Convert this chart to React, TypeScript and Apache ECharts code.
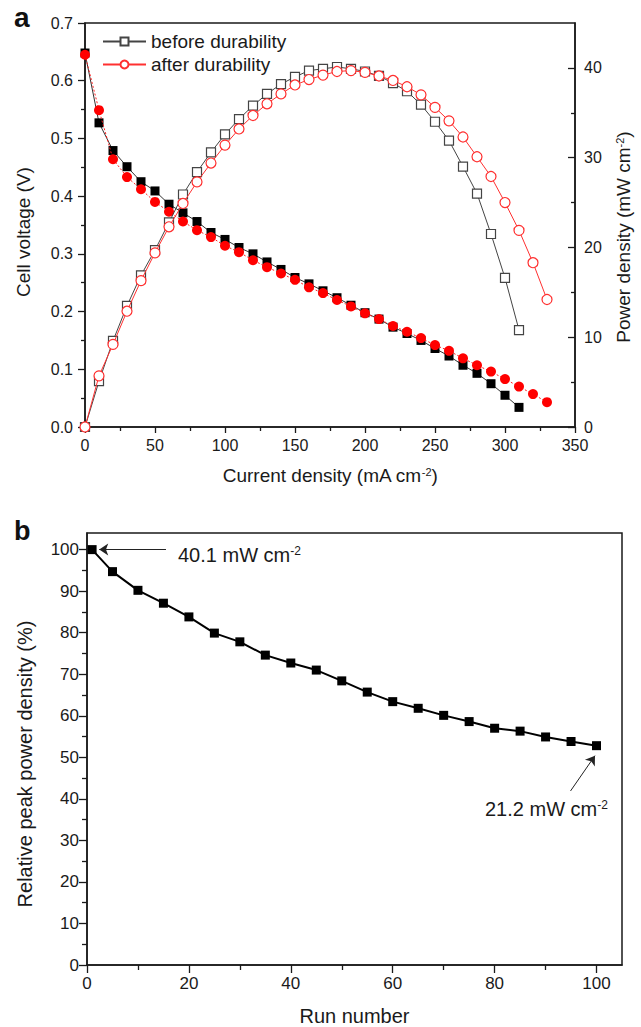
import React, { useEffect, useRef } from "react";
import * as echarts from "echarts";

// ---------- Data ----------
const currentBefore = [0, 10, 20, 30, 40, 50, 60, 70, 80, 90, 100, 110, 120, 130, 140, 150, 160, 170, 180, 190, 200, 210, 220, 230, 240, 250, 260, 270, 280, 290, 300, 310];
const currentAfter = [0, 10, 20, 30, 40, 50, 60, 70, 80, 90, 100, 110, 120, 130, 140, 150, 160, 170, 180, 190, 200, 210, 220, 230, 240, 250, 260, 270, 280, 290, 300, 310, 320, 330];

const voltageBefore = [0.648, 0.527, 0.479, 0.451, 0.425, 0.409, 0.386, 0.371, 0.356, 0.337, 0.325, 0.311, 0.300, 0.286, 0.273, 0.259, 0.248, 0.236, 0.224, 0.211, 0.198, 0.187, 0.173, 0.162, 0.150, 0.136, 0.123, 0.107, 0.093, 0.075, 0.055, 0.034];
const voltageAfter = [0.645, 0.549, 0.464, 0.433, 0.412, 0.390, 0.373, 0.356, 0.341, 0.329, 0.314, 0.303, 0.289, 0.277, 0.266, 0.255, 0.242, 0.232, 0.220, 0.209, 0.197, 0.187, 0.175, 0.165, 0.154, 0.142, 0.132, 0.119, 0.107, 0.096, 0.083, 0.070, 0.057, 0.043];

const powerBefore = [0, 5.1, 9.6, 13.5, 16.9, 19.7, 22.8, 25.9, 28.4, 30.6, 32.6, 34.3, 35.8, 37.1, 38.2, 39.0, 39.7, 39.9, 40.1, 39.9, 39.6, 39.1, 38.3, 37.4, 35.9, 34.0, 31.9, 29.0, 26.0, 21.5, 16.6, 10.8];
const powerAfter = [0, 5.7, 9.2, 12.9, 16.3, 19.4, 22.3, 24.9, 27.3, 29.4, 31.4, 33.2, 34.7, 36.0, 37.1, 38.1, 38.7, 39.2, 39.6, 39.7, 39.5, 39.1, 38.6, 37.9, 37.0, 35.6, 34.1, 32.3, 30.1, 27.9, 25.0, 21.9, 18.3, 14.2];

const runNumbers = [1, 5, 10, 15, 20, 25, 30, 35, 40, 45, 50, 55, 60, 65, 70, 75, 80, 85, 90, 95, 100];
const relativePeak = [100, 94.7, 90.2, 87.1, 83.8, 79.9, 77.8, 74.6, 72.7, 71.0, 68.4, 65.7, 63.4, 61.8, 60.1, 58.6, 57.0, 56.3, 54.9, 53.8, 52.8];

const legendNames = ["before durability", "after durability"];

const rightMajorTicks = [0, 10, 20, 30, 40];
const rightMinorTicks = [5, 15, 25, 35];
const runMajorTicks = [0, 20, 40, 60, 80, 100];
const runMinorTicks = [10, 30, 50, 70, 90];
const relMajorTicks = [0, 10, 20, 30, 40, 50, 60, 70, 80, 90, 100];
const relMinorTicks = [5, 15, 25, 35, 45, 55, 65, 75, 85, 95];

const FONT = '"Liberation Sans", Arial, sans-serif';
const INK = "#1a1a1a";

function zip(xs: number[], ys: number[]) {
  return xs.map((x, i) => [x, ys[i]]);
}

export default function App() {
  const ref = useRef<HTMLDivElement>(null);

  useEffect(() => {
    document.body.style.margin = "0";
    if (!ref.current) return;
    const chart = echarts.init(ref.current, null, { renderer: "svg" });

    const axisLine = { show: true, onZero: false, lineStyle: { color: INK, width: 1.5 } };
    const tickStyle = { color: INK, width: 1.3 };
    const supRich = (size: number) => ({
      sup: { fontSize: size, lineHeight: 8, verticalAlign: "top" as const, color: INK, fontFamily: FONT },
    });

    const option: any = {
      animation: false,
      backgroundColor: "#fff",
      textStyle: { fontFamily: FONT, color: INK },
      grid: [
        { left: 85, right: 57, top: 23, bottom: 600, show: true, borderColor: INK, borderWidth: 1.5, backgroundColor: "transparent" },
        { left: 87, right: 19, top: 533, bottom: 61, show: true, borderColor: INK, borderWidth: 1.5, backgroundColor: "transparent" },
      ],
      legend: {
        data: legendNames,
        orient: "vertical",
        left: 97,
        top: 27,
        itemWidth: 43,
        itemHeight: 10,
        itemGap: 4,
        textStyle: { fontSize: 19, color: INK, fontFamily: FONT },
      },
      xAxis: [
        {
          type: "value",
          gridIndex: 0,
          min: 0,
          max: 350,
          interval: 50,
          axisLine,
          axisTick: { show: true, length: 6, lineStyle: tickStyle },
          minorTick: { show: true, splitNumber: 2, length: 4, lineStyle: tickStyle },
          splitLine: { show: false },
          axisLabel: { fontSize: 16, color: INK, margin: 10, fontFamily: FONT },
          name: "Current density (mA cm{sup|-2})",
          nameLocation: "middle",
          nameGap: 39,
          nameTextStyle: { fontSize: 19, color: INK, fontFamily: FONT, rich: supRich(11) },
        },
        {
          type: "value",
          gridIndex: 1,
          min: 0,
          max: 105,
          axisLine,
          axisTick: { show: true, length: 8, lineStyle: tickStyle, customValues: runMajorTicks },
          splitLine: { show: false },
          axisLabel: { fontSize: 17, color: INK, margin: 10, fontFamily: FONT, customValues: runMajorTicks },
          name: "Run number",
          nameLocation: "middle",
          nameGap: 41,
          nameTextStyle: { fontSize: 20, color: INK, fontFamily: FONT },
        },
        {
          type: "value",
          gridIndex: 1,
          min: 0,
          max: 105,
          position: "bottom",
          axisLine: { show: false, onZero: false },
          axisTick: { show: true, length: 5, lineStyle: tickStyle, customValues: runMinorTicks },
          splitLine: { show: false },
          axisLabel: { show: false },
        },
      ],
      yAxis: [
        {
          type: "value",
          gridIndex: 0,
          position: "left",
          min: 0,
          max: 0.7,
          interval: 0.1,
          axisLine,
          axisTick: { show: true, length: 7, lineStyle: tickStyle },
          minorTick: { show: true, splitNumber: 2, length: 4, lineStyle: tickStyle },
          splitLine: { show: false },
          axisLabel: { fontSize: 16, color: INK, margin: 12, fontFamily: FONT, formatter: (v: number) => v.toFixed(1) },
          name: "Cell voltage (V)",
          nameLocation: "middle",
          nameRotate: 90,
          nameGap: 52,
          nameTextStyle: { fontSize: 19, color: INK, fontFamily: FONT, padding: [0, 14, 0, 0] },
        },
        {
          type: "value",
          gridIndex: 0,
          position: "right",
          min: 0,
          max: 45,
          axisLine,
          axisTick: { show: true, inside: true, length: 7, lineStyle: tickStyle, customValues: rightMajorTicks },
          splitLine: { show: false },
          axisLabel: { fontSize: 16, color: INK, margin: 9, fontFamily: FONT, customValues: rightMajorTicks },
          name: "Power density (mW cm{sup|-2})",
          nameLocation: "middle",
          nameRotate: 90,
          nameGap: 39,
          nameTextStyle: { fontSize: 19, color: INK, fontFamily: FONT, padding: [0, 24, 0, 0], rich: supRich(11) },
        },
        {
          type: "value",
          gridIndex: 1,
          position: "left",
          min: 0,
          max: 104,
          axisLine,
          axisTick: { show: true, length: 8, lineStyle: tickStyle, customValues: relMajorTicks },
          splitLine: { show: false },
          axisLabel: { fontSize: 17, color: INK, margin: 8, fontFamily: FONT, customValues: relMajorTicks },
          name: "Relative peak power density (%)",
          nameLocation: "middle",
          nameRotate: 90,
          nameGap: 52,
          nameTextStyle: { fontSize: 20, color: INK, fontFamily: FONT, padding: [0, 30, 0, 0] },
        },
        {
          type: "value",
          gridIndex: 1,
          position: "left",
          min: 0,
          max: 104,
          axisLine: { show: false, onZero: false },
          axisTick: { show: true, length: 5, lineStyle: tickStyle, customValues: relMinorTicks },
          splitLine: { show: false },
          axisLabel: { show: false },
        },
        {
          type: "value",
          gridIndex: 0,
          position: "right",
          min: 0,
          max: 45,
          axisLine: { show: false, onZero: false },
          axisTick: { show: true, inside: true, length: 4, lineStyle: tickStyle, customValues: rightMinorTicks },
          splitLine: { show: false },
          axisLabel: { show: false },
        },
      ],
      series: [
        {
          type: "line",
          name: "V before",
          xAxisIndex: 0,
          yAxisIndex: 0,
          data: zip(currentBefore, voltageBefore),
          symbol: "rect",
          symbolSize: 9,
          itemStyle: { color: "#000" },
          lineStyle: { color: "#333", width: 1 },
          clip: false,
          z: 2,
        },
        {
          type: "line",
          name: "V after",
          xAxisIndex: 0,
          yAxisIndex: 0,
          data: zip(currentAfter, voltageAfter),
          symbol: "circle",
          symbolSize: 10,
          itemStyle: { color: "#ff0000" },
          lineStyle: { color: "#ff2020", width: 1, type: [2, 2] },
          clip: false,
          z: 3,
        },
        {
          type: "line",
          name: legendNames[0],
          xAxisIndex: 0,
          yAxisIndex: 1,
          data: zip(currentBefore, powerBefore),
          symbol: "rect",
          symbolSize: 9,
          itemStyle: { color: "#fff", borderColor: "#444", borderWidth: 1.2 },
          lineStyle: { color: "#444", width: 1 },
          z: 4,
        },
        {
          type: "line",
          name: legendNames[1],
          xAxisIndex: 0,
          yAxisIndex: 1,
          data: zip(currentAfter, powerAfter),
          symbol: "circle",
          symbolSize: 10,
          itemStyle: { color: "#fff", borderColor: "#ff3030", borderWidth: 1.2 },
          lineStyle: { color: "#ff3030", width: 1 },
          z: 5,
        },
        {
          type: "line",
          name: "relative",
          xAxisIndex: 1,
          yAxisIndex: 2,
          data: zip(runNumbers, relativePeak),
          symbol: "rect",
          symbolSize: 9,
          itemStyle: { color: "#000" },
          lineStyle: { color: "#000", width: 2 },
          clip: false,
          markLine: {
            silent: true,
            symbolSize: 9,
            label: { show: false },
            lineStyle: { color: "#222", width: 1, type: "solid" },
            data: [
              [
                { coord: [15.5, 100], symbol: "none" },
                { coord: [2.4, 100], symbol: "arrow" },
              ],
              [
                { coord: [94.9, 41.9], symbol: "none" },
                { coord: [99.7, 50.4], symbol: "arrow" },
              ],
            ],
          },
        },
      ],
      graphic: [
        {
          type: "text",
          x: 14,
          y: 17,
          style: { text: "a", fontSize: 28, fontWeight: "bold", fontFamily: FONT, fill: "#111", verticalAlign: "middle", align: "left" },
        },
        {
          type: "text",
          x: 14,
          y: 531,
          style: { text: "b", fontSize: 27, fontWeight: "bold", fontFamily: FONT, fill: "#111", verticalAlign: "middle", align: "left" },
        },
        {
          type: "text",
          x: 178,
          y: 555,
          style: {
            text: "40.1 mW cm{sup|-2}",
            fontSize: 20,
            fontFamily: FONT,
            fill: INK,
            verticalAlign: "middle",
            align: "left",
            rich: { sup: { fontSize: 12, lineHeight: 8, verticalAlign: "top", fill: INK, fontFamily: FONT } },
          },
        },
        {
          type: "text",
          x: 485,
          y: 809,
          style: {
            text: "21.2 mW cm{sup|-2}",
            fontSize: 20,
            fontFamily: FONT,
            fill: INK,
            verticalAlign: "middle",
            align: "left",
            rich: { sup: { fontSize: 12, lineHeight: 8, verticalAlign: "top", fill: INK, fontFamily: FONT } },
          },
        },
      ],
    };

    chart.setOption(option);
    return () => chart.dispose();
  }, []);

  return <div ref={ref} style={{ width: 641, height: 1027 }} />;
}
